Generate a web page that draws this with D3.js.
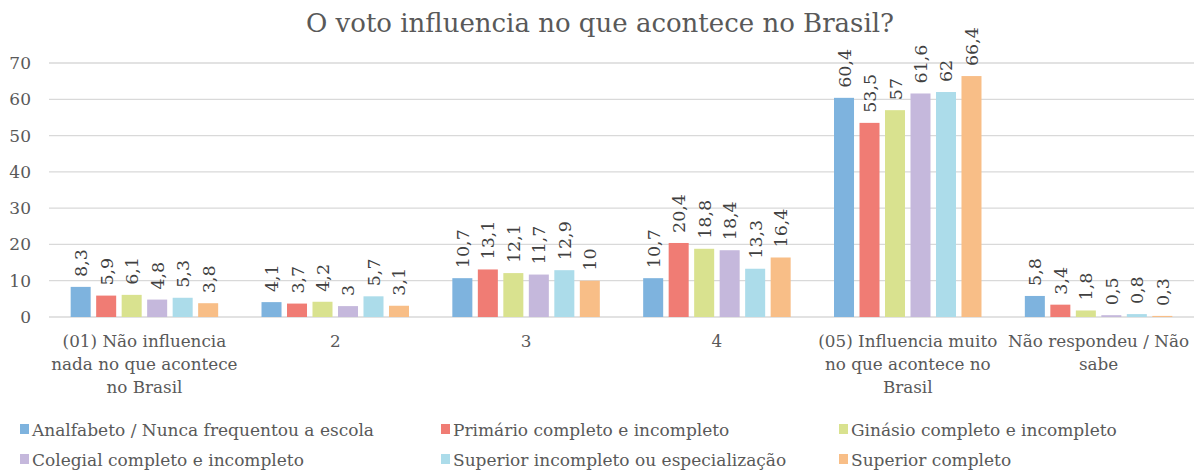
<!DOCTYPE html>
<html><head><meta charset="utf-8">
<script src="https://cdn.jsdelivr.net/npm/d3@7"></script>
<style>
body{margin:0;background:#fff;}
svg{display:block;}
</style>
</head><body>
<script>
const categories = [
  ["(01) Não influencia", "nada no que acontece", "no Brasil"],
  ["2"],
  ["3"],
  ["4"],
  ["(05) Influencia muito", "no que acontece no", "Brasil"],
  ["Não respondeu / Não", "sabe"]
];
const seriesNames = [
  "Analfabeto / Nunca frequentou a escola",
  "Primário completo e incompleto",
  "Ginásio completo e incompleto",
  "Colegial completo e incompleto",
  "Superior incompleto ou especialização",
  "Superior completo"
];
const colors = ["#7EB3DE", "#F07C74", "#D9E28F", "#C5B8DC", "#ACDCEA", "#F8BE87"];
const valuesCat1 = [8.3, 5.9, 6.1, 4.8, 5.3, 3.8];
const valuesCat2 = [4.1, 3.7, 4.2, 3, 5.7, 3.1];
const valuesCat3 = [10.7, 13.1, 12.1, 11.7, 12.9, 10];
const valuesCat4 = [10.7, 20.4, 18.8, 18.4, 13.3, 16.4];
const valuesCat5 = [60.4, 53.5, 57, 61.6, 62, 66.4];
const valuesCat6 = [5.8, 3.4, 1.8, 0.5, 0.8, 0.3];
const values = [valuesCat1, valuesCat2, valuesCat3, valuesCat4, valuesCat5, valuesCat6];
const yTicks = [0, 10, 20, 30, 40, 50, 60, 70];
const title = "O voto influencia no que acontece no Brasil?";

const W = 1195, H = 471;
const FONT = "DejaVu Serif";
const svg = d3.select("body").append("svg").attr("width", W).attr("height", H);

const pLeft = 49, pRight = 1194, pTop = 63, pBottom = 317;
const x0 = d3.scaleBand().domain(d3.range(categories.length)).range([pLeft, pRight]).paddingInner(0).paddingOuter(0);
const x1 = d3.scaleBand().domain(d3.range(seriesNames.length)).range([0, x0.bandwidth()]).paddingInner(0.215).paddingOuter(0.85);
const y = d3.scaleLinear().domain([0, 70]).range([pBottom, pTop]);

svg.append("text").attr("x", 600).attr("y", 32).attr("text-anchor", "middle")
  .attr("font-family", FONT)
  .attr("font-size", 26).attr("fill", "#595959").text(title);

// grid
svg.append("g").selectAll("line").data(yTicks).join("line")
  .attr("x1", pLeft).attr("x2", pRight)
  .attr("y1", d => y(d)).attr("y2", d => y(d))
  .attr("stroke", "#d9d9d9").attr("stroke-width", 1.3);

// y tick labels
svg.append("g").selectAll("text").data(yTicks).join("text")
  .attr("font-family", FONT)
  .attr("x", 31).attr("y", d => y(d)).attr("dy", "0.35em").attr("text-anchor", "end")
  .attr("font-size", 17).attr("fill", "#595959").text(d => d);

// bars
const g = svg.append("g").selectAll("g").data(values).join("g")
  .attr("transform", (d, i) => `translate(${x0(i)},0)`);
g.selectAll("rect").data(d => d).join("rect")
  .attr("x", (d, j) => x1(j)).attr("width", x1.bandwidth())
  .attr("y", d => y(d)).attr("height", d => y(0) - y(d))
  .attr("fill", (d, j) => colors[j]);
g.selectAll("text").data(d => d).join("text")
  .attr("font-family", FONT)
  .attr("transform", (d, j) => `translate(${x1(j) + x1.bandwidth() / 2 + 6.5},${y(d) - 10}) rotate(-90)`)
  .attr("font-size", 17.5).attr("fill", "#404040")
  .text(d => String(d).replace(".", ","));

// x labels
const xl = svg.append("g").selectAll("text").data(categories).join("text")
  .attr("font-family", FONT)
  .attr("x", (d, i) => x0(i) + x0.bandwidth() / 2).attr("y", 347)
  .attr("text-anchor", "middle").attr("font-size", 16.8).attr("fill", "#595959");
xl.selectAll("tspan").data(d => d).join("tspan")
  .attr("x", function () { return d3.select(this.parentNode).attr("x"); })
  .attr("dy", (d, k) => k === 0 ? 0 : 23).text(d => d);

// legend
const legX = [20, 441, 839];
const legY = [436, 466];
const leg = svg.append("g").selectAll("g").data(seriesNames).join("g")
  .attr("transform", (d, i) => `translate(${legX[i % 3]},${legY[Math.floor(i / 3)]})`);
leg.append("rect").attr("x", 0).attr("y", -12).attr("width", 9).attr("height", 10)
  .attr("fill", (d, i) => colors[i]);
leg.append("text").attr("font-family", FONT)
  .attr("x", 12).attr("y", 0).attr("font-size", 17).attr("fill", "#595959").text(d => d);
</script>
</body></html>
